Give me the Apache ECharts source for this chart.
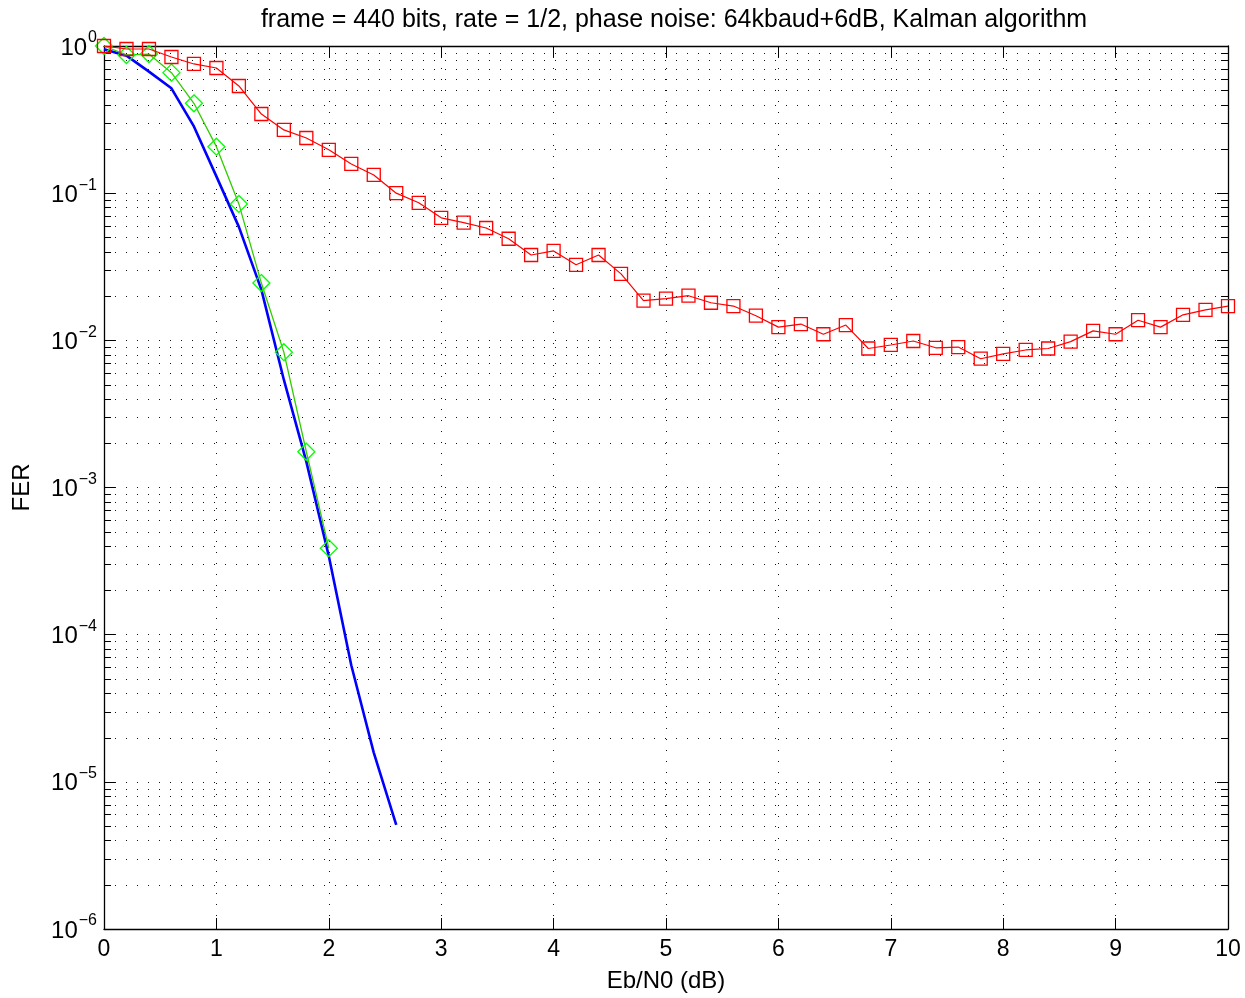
<!DOCTYPE html>
<html>
<head>
<meta charset="utf-8">
<script src="https://cdn.jsdelivr.net/npm/echarts@6/dist/echarts.min.js"></script>
<style>
  html, body { margin: 0; padding: 0; background: #fff; }
  #chart { width: 1245px; height: 998px; }
</style>
</head>
<body>
<div id="chart"></div>
<script>
  // Eb/N0 points (dB)
  var ebnoKalman = [0, 0.2, 0.4, 0.6, 0.8, 1, 1.2, 1.4, 1.6, 1.8, 2, 2.2, 2.4, 2.6, 2.8, 3, 3.2, 3.4, 3.6, 3.8,
    4, 4.2, 4.4, 4.6, 4.8, 5, 5.2, 5.4, 5.6, 5.8, 6, 6.2, 6.4, 6.6, 6.8, 7, 7.2, 7.4, 7.6, 7.8,
    8, 8.2, 8.4, 8.6, 8.8, 9, 9.2, 9.4, 9.6, 9.8, 10];
  var ferKalman = [1.0, 0.954, 0.954, 0.842, 0.755, 0.709, 0.535, 0.345, 0.269, 0.237, 0.197, 0.158, 0.133, 0.100,
    0.086, 0.068, 0.063, 0.058, 0.049, 0.038, 0.0405, 0.0326, 0.038, 0.0283, 0.0186, 0.0192, 0.0201, 0.0180,
    0.0171, 0.0147, 0.0123, 0.0129, 0.0110, 0.0127, 0.0088, 0.0093, 0.0099, 0.0089, 0.0090, 0.0075, 0.0081,
    0.0086, 0.0088, 0.0098, 0.0116, 0.0110, 0.0137, 0.0123, 0.0149, 0.0161, 0.0171];

  var ebnoRef = [0, 0.2, 0.4, 0.6, 0.8, 1, 1.2, 1.4, 1.6, 1.8, 2, 2.2, 2.4, 2.6];
  var ferRef = [0.95, 0.86, 0.67, 0.516, 0.284, 0.13, 0.059, 0.0221, 0.0054, 0.0015, 0.000342, 6.2e-5, 1.58e-5, 5.1e-6];

  var ebnoGreen = [0, 0.2, 0.4, 0.6, 0.8, 1, 1.2, 1.4, 1.6, 1.8, 2];
  var ferGreen = [1.0, 0.869, 0.882, 0.659, 0.408, 0.207, 0.0845, 0.0245, 0.00831, 0.00175, 0.000387];

  var titleText = 'frame = 440 bits, rate = 1/2, phase noise: 64kbaud+6dB, Kalman algorithm';

  function pairs(xs, ys) {
    var out = [];
    for (var i = 0; i < xs.length; i++) out.push([xs[i], ys[i]]);
    return out;
  }

  // minor log grid positions (2..9 x 10^k)
  var minorVals = [];
  for (var k = -6; k < 0; k++) {
    for (var m = 2; m <= 9; m++) minorVals.push([0, m * Math.pow(10, k)]);
  }

  var FONT = 'Liberation Sans, Arial, Helvetica, sans-serif';
  var dotStyle = { color: '#111', width: 1, type: [1, 10] };

  var chart = echarts.init(document.getElementById('chart'));

  var option = {
    animation: false,
    backgroundColor: '#fff',
    textStyle: { fontFamily: FONT },
    title: {
      text: titleText,
      left: 669,
      textAlign: 'center',
      top: 3,
      textStyle: { fontFamily: FONT, fontSize: 25, fontWeight: 'normal', color: '#000' }
    },
    grid: { left: 104, right: 17, top: 46, bottom: 68 },
    xAxis: [{
      type: 'value', min: 0, max: 10, interval: 1,
      name: 'Eb/N0 (dB)', nameLocation: 'middle', nameGap: 40,
      nameTextStyle: { fontFamily: FONT, fontSize: 24, color: '#000' },
      axisLine: { lineStyle: { color: '#000', width: 1.3 } },
      axisTick: { inside: true, length: 11, lineStyle: { color: '#000' } },
      axisLabel: { fontFamily: FONT, fontSize: 23, color: '#000', margin: 9 },
      splitLine: { show: true, lineStyle: dotStyle }
    }, {
      type: 'value', min: 0, max: 10, interval: 1, position: 'top',
      axisLine: { onZero: false, lineStyle: { color: '#000', width: 1.3 } },
      axisTick: { inside: true, length: 11, lineStyle: { color: '#000' } },
      axisLabel: { show: false },
      splitLine: { show: false }
    }],
    yAxis: [{
      type: 'log', logBase: 10, min: 1e-6, max: 1,
      name: 'FER', nameLocation: 'middle', nameGap: 70, nameRotate: 90,
      nameTextStyle: { fontFamily: FONT, fontSize: 24, color: '#000' },
      axisLine: { lineStyle: { color: '#000', width: 1.3 } },
      axisTick: { inside: true, length: 11, lineStyle: { color: '#000' } },
      axisLabel: {
        margin: 7,
        formatter: function (v) {
          var e = Math.round(Math.log(v) / Math.LN10);
          return '{b|10}{s|' + (e < 0 ? '\u2212' + (-e) : e) + '}';
        },
        rich: {
          b: { fontFamily: FONT, fontSize: 24, color: '#000', padding: [4, 0, 0, 0] },
          s: { fontFamily: FONT, fontSize: 16, color: '#000', padding: [0, 0, 16, 1] }
        }
      },
      splitLine: { show: true, lineStyle: dotStyle }
    }, {
      type: 'log', logBase: 10, min: 1e-6, max: 1, position: 'right',
      axisLine: { onZero: false, lineStyle: { color: '#000', width: 1.3 } },
      axisTick: { inside: true, length: 11, lineStyle: { color: '#000' } },
      axisLabel: { show: false },
      splitLine: { show: false }
    }],
    series: [{
      name: 'minor grid',
      type: 'custom',
      silent: true,
      z: 1,
      data: minorVals,
      renderItem: function (params, api) {
        var cs = params.coordSys;
        var y = Math.round(api.coord([0, api.value(1)])[1]) + 0.5;
        var x0 = cs.x, x1 = cs.x + cs.width;
        return {
          type: 'group',
          children: [
            { type: 'line', shape: { x1: x0, y1: y, x2: x1, y2: y },
              style: { stroke: '#111', lineWidth: 1, lineDash: [1, 10] } },
            { type: 'line', shape: { x1: x0, y1: y, x2: x0 + 7, y2: y },
              style: { stroke: '#000', lineWidth: 1 } },
            { type: 'line', shape: { x1: x1 - 7, y1: y, x2: x1, y2: y },
              style: { stroke: '#000', lineWidth: 1 } }
          ]
        };
      }
    }, {
      name: 'reference',
      type: 'line',
      data: pairs(ebnoRef, ferRef),
      showSymbol: false,
      symbol: 'none',
      z: 3,
      lineStyle: { color: '#0000ff', width: 2.6 }
    }, {
      name: 'green',
      type: 'line',
      data: pairs(ebnoGreen, ferGreen),
      symbol: 'diamond',
      symbolSize: 17,
      z: 4,
      lineStyle: { color: '#33cc00', width: 1.3 },
      itemStyle: { color: 'transparent', borderColor: '#00ff00', borderWidth: 1.3 }
    }, {
      name: 'Kalman',
      type: 'line',
      data: pairs(ebnoKalman, ferKalman),
      symbol: 'rect',
      symbolSize: 13,
      z: 5,
      lineStyle: { color: '#ff0000', width: 1.2 },
      itemStyle: { color: 'transparent', borderColor: '#ff0000', borderWidth: 1.3 }
    }]
  };

  chart.setOption(option);
</script>
</body>
</html>
